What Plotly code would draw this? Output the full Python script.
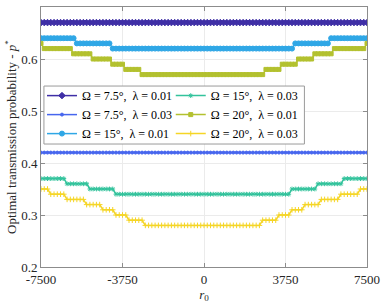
import plotly.graph_objects as go

r0 = list(range(-7500, 7501, 150))  # sampling grid of r0 (101 points)
x_ticks = [-7500, -3750, 0, 3750, 7500]
y_ticks = [0.2, 0.3, 0.4, 0.5, 0.6, 0.7]

p_om7_5_l01 = [0.67] * 101
p_om7_5_l03 = [0.42] * 101
p_om15_l01 = [
    0.64, 0.64, 0.64, 0.64, 0.64, 0.64, 0.64, 0.64, 0.64, 0.64,
    0.64, 0.63, 0.63, 0.63, 0.63, 0.63, 0.63, 0.63, 0.63, 0.63,
    0.63, 0.63, 0.62, 0.62, 0.62, 0.62, 0.62, 0.62, 0.62, 0.62,
    0.62, 0.62, 0.62, 0.62, 0.62, 0.62, 0.62, 0.62, 0.62, 0.62,
    0.62, 0.62, 0.62, 0.62, 0.62, 0.62, 0.62, 0.62, 0.62, 0.62,
    0.62, 0.62, 0.62, 0.62, 0.62, 0.62, 0.62, 0.62, 0.62, 0.62,
    0.62, 0.62, 0.62, 0.62, 0.62, 0.62, 0.62, 0.62, 0.62, 0.62,
    0.62, 0.62, 0.62, 0.62, 0.62, 0.62, 0.62, 0.62, 0.63, 0.63,
    0.63, 0.63, 0.63, 0.63, 0.63, 0.63, 0.63, 0.63, 0.63, 0.64,
    0.64, 0.64, 0.64, 0.64, 0.64, 0.64, 0.64, 0.64, 0.64, 0.64,
    0.64]
p_om15_l03 = [
    0.37, 0.37, 0.37, 0.37, 0.37, 0.37, 0.37, 0.37, 0.36, 0.36,
    0.36, 0.36, 0.36, 0.36, 0.36, 0.35, 0.35, 0.35, 0.35, 0.35,
    0.35, 0.35, 0.35, 0.34, 0.34, 0.34, 0.34, 0.34, 0.34, 0.34,
    0.34, 0.34, 0.34, 0.34, 0.34, 0.34, 0.34, 0.34, 0.34, 0.34,
    0.34, 0.34, 0.34, 0.34, 0.34, 0.34, 0.34, 0.34, 0.34, 0.34,
    0.34, 0.34, 0.34, 0.34, 0.34, 0.34, 0.34, 0.34, 0.34, 0.34,
    0.34, 0.34, 0.34, 0.34, 0.34, 0.34, 0.34, 0.34, 0.34, 0.34,
    0.34, 0.34, 0.34, 0.34, 0.34, 0.34, 0.34, 0.35, 0.35, 0.35,
    0.35, 0.35, 0.35, 0.35, 0.35, 0.36, 0.36, 0.36, 0.36, 0.36,
    0.36, 0.36, 0.36, 0.37, 0.37, 0.37, 0.37, 0.37, 0.37, 0.37,
    0.37]
p_om20_l01 = [
    0.63, 0.62, 0.62, 0.62, 0.62, 0.62, 0.62, 0.62, 0.62, 0.62,
    0.61, 0.61, 0.61, 0.61, 0.61, 0.61, 0.60, 0.60, 0.60, 0.60,
    0.60, 0.60, 0.59, 0.59, 0.59, 0.59, 0.58, 0.58, 0.58, 0.58,
    0.58, 0.57, 0.57, 0.57, 0.57, 0.57, 0.57, 0.57, 0.57, 0.57,
    0.57, 0.57, 0.57, 0.57, 0.57, 0.57, 0.57, 0.57, 0.57, 0.57,
    0.57, 0.57, 0.57, 0.57, 0.57, 0.57, 0.57, 0.57, 0.57, 0.57,
    0.57, 0.57, 0.57, 0.57, 0.57, 0.57, 0.57, 0.57, 0.57, 0.58,
    0.58, 0.58, 0.58, 0.58, 0.59, 0.59, 0.59, 0.59, 0.59, 0.60,
    0.60, 0.60, 0.60, 0.60, 0.61, 0.61, 0.61, 0.61, 0.61, 0.61,
    0.62, 0.62, 0.62, 0.62, 0.62, 0.62, 0.62, 0.62, 0.62, 0.62,
    0.63]
p_om20_l03 = [
    0.35, 0.35, 0.35, 0.34, 0.34, 0.34, 0.34, 0.34, 0.33, 0.33,
    0.33, 0.33, 0.33, 0.33, 0.32, 0.32, 0.32, 0.32, 0.32, 0.31,
    0.31, 0.31, 0.31, 0.30, 0.30, 0.30, 0.30, 0.29, 0.29, 0.29,
    0.29, 0.29, 0.28, 0.28, 0.28, 0.28, 0.28, 0.28, 0.28, 0.28,
    0.28, 0.28, 0.28, 0.28, 0.28, 0.28, 0.28, 0.28, 0.28, 0.28,
    0.28, 0.28, 0.28, 0.28, 0.28, 0.28, 0.28, 0.28, 0.28, 0.28,
    0.28, 0.28, 0.28, 0.28, 0.28, 0.28, 0.28, 0.28, 0.29, 0.29,
    0.29, 0.29, 0.29, 0.30, 0.30, 0.30, 0.30, 0.31, 0.31, 0.31,
    0.31, 0.32, 0.32, 0.32, 0.32, 0.32, 0.33, 0.33, 0.33, 0.33,
    0.33, 0.33, 0.34, 0.34, 0.34, 0.34, 0.34, 0.34, 0.35, 0.35,
    0.35]

series = [
    ("Ω = 7.5°,  λ = 0.01", p_om7_5_l01, "#3f2fa6", "diamond", 5, "legend"),
    ("Ω = 7.5°,  λ = 0.03", p_om7_5_l03, "#4766ee", "circle", 3, "legend"),
    ("Ω = 15°,  λ = 0.01", p_om15_l01, "#2fa7e6", "circle", 5, "legend"),
    ("Ω = 15°,  λ = 0.03", p_om15_l03, "#33c39c", "asterisk-open", 4, "legend2"),
    ("Ω = 20°,  λ = 0.01", p_om20_l01, "#b3c12f", "square", 4, "legend2"),
    ("Ω = 20°,  λ = 0.03", p_om20_l03, "#f5d526", "cross-thin-open", 4, "legend2"),
]

fig = go.Figure()
for name, vals, col, sym, size, lg in series:
    fig.add_trace(go.Scatter(
        x=r0, y=vals, mode="lines+markers", name=name, legend=lg,
        line=dict(color=col, width=1.5),
        marker=dict(symbol=sym, size=size, color=col, line=dict(color=col, width=1)),
    ))

serif = "Liberation Serif, DejaVu Serif, serif"
axis_common = dict(
    showline=True, linecolor="#8c8c8c", linewidth=1, mirror="ticks",
    ticks="inside", ticklen=4, tickcolor="#8c8c8c", automargin=False,
    showgrid=True, gridcolor="#ebebeb", gridwidth=1, zeroline=False,
    tickfont=dict(family=serif, size=13, color="#262626"),
)
fig.update_xaxes(range=[-7500, 7500], tickvals=x_ticks, ticktext=[str(v) for v in x_ticks],
                 title=dict(text="<i>r</i><sub>0</sub>", font=dict(family=serif, size=13, color="#262626"), standoff=2),
                 **axis_common)
fig.update_yaxes(range=[0.2, 0.7], tickvals=y_ticks, ticktext=[f"{v:.1f}" for v in y_ticks],
                 title=dict(text="Optimal transmission probability - <i>p</i><sup>*</sup>",
                            font=dict(family=serif, size=13, color="#262626"), standoff=1),
                 **axis_common)

leg_common = dict(font=dict(family=serif, size=12, color="#000000"), bgcolor="rgba(0,0,0,0)",
                  borderwidth=0, yanchor="top", xanchor="left", tracegroupgap=0, itemwidth=30)
fig.update_layout(
    width=382, height=306,
    margin=dict(l=41, r=15, t=7, b=39),
    plot_bgcolor="white", paper_bgcolor="white",
    legend=dict(x=0.003, y=0.715, **leg_common),
    legend2=dict(x=0.398, y=0.715, **leg_common),
    shapes=[dict(type="rect", xref="paper", yref="paper", x0=0.009, x1=0.808, y0=0.473, y1=0.696,
                 line=dict(color="#9a9a9a", width=1), fillcolor="white", layer="above")],
)
fig.write_html("out.html", config={"displayModeBar": False},
               post_script="document.body.style.margin='0px';")
